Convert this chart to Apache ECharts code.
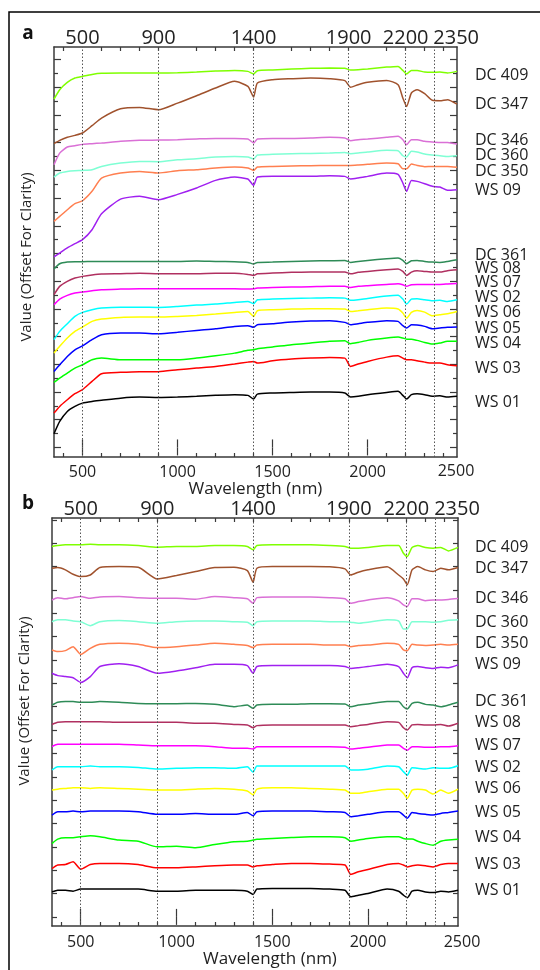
<!DOCTYPE html>
<html><head><meta charset="utf-8">
<script src="https://cdn.jsdelivr.net/npm/echarts@6/dist/echarts.min.js"></script>
<style>html,body{margin:0;padding:0;background:#fff}#c{width:540px;height:970px}</style>
</head><body><div id="c"></div><script>
// ---- data ----
const wavelengths = [350,380,420,460,500,550,600,700,800,900,1000,1100,1200,1300,1370,1400,1420,1500,1600,1700,1800,1880,1910,1950,2000,2100,2160,2185,2205,2230,2260,2300,2340,2380,2420,2470];
const seriesNames = ['DC 409','DC 347','DC 346','DC 360','DC 350','WS 09','DC 361','WS 08','WS 07','WS 02','WS 06','WS 05','WS 04','WS 03','WS 01'];
const featureLines = [500,900,1400,1900,2200,2350];
const bottomTickLabels = [500,1000,1500,2000];
const minorXTicks = [400,600,700,800,900,1100,1200,1300,1400,1600,1700,1800,1900,2100,2200,2300,2400];
const majorXTicks = [500,1000,1500,2000];

// panel a (reflectance, offset for clarity)
const aDC409 = [25.15,25.83,26.36,26.67,26.79,26.93,27.01,27.03,27.03,27.03,27.05,27.10,27.17,27.22,27.15,26.96,27.20,27.25,27.32,27.37,27.39,27.37,27.25,27.27,27.32,27.46,27.51,27.22,26.96,27.22,27.22,27.10,27.08,27.10,27.03,27.15];
const aDC347 = [21.93,22.17,22.39,22.53,22.70,23.23,23.78,24.45,24.55,24.38,24.86,25.39,25.95,26.43,26.07,25.30,26.31,26.55,26.62,26.67,26.62,26.48,26.00,26.19,26.36,26.50,26.19,25.23,24.62,25.59,25.83,25.54,25.06,25.03,25.11,24.79];
const aDC346 = [20.41,21.25,21.69,21.78,21.88,21.93,21.98,22.10,22.17,22.19,22.22,22.27,22.31,22.31,22.27,21.98,22.27,22.31,22.31,22.34,22.39,22.34,22.15,22.22,22.27,22.39,22.46,22.22,21.86,22.22,22.22,22.10,22.05,22.02,22.02,21.90];
const aDC360 = [19.52,19.81,19.93,19.98,20.00,20.05,20.29,20.53,20.65,20.63,20.77,20.85,20.97,21.01,20.97,20.82,21.11,21.16,21.21,21.23,21.25,21.30,21.21,21.25,21.33,21.45,21.42,21.06,20.97,21.38,21.33,21.18,21.11,21.06,21.01,21.06];
const aDC350 = [16.32,16.68,17.16,17.60,17.81,18.49,19.45,19.81,19.93,19.81,19.98,20.05,20.17,20.24,20.17,20.00,20.24,20.29,20.32,20.34,20.36,20.36,20.36,20.39,20.44,20.53,20.48,20.12,20.12,20.46,20.36,20.27,20.29,20.29,20.29,20.22];
const aWS09 = [13.75,14.03,14.40,14.71,15.00,15.72,16.87,17.93,18.13,17.89,18.27,18.73,19.28,19.52,19.38,18.92,19.52,19.57,19.57,19.57,19.62,19.57,19.38,19.45,19.57,19.81,19.71,19.09,18.49,19.28,19.21,19.04,18.85,18.80,18.56,18.61];
const aDC361 = [12.88,13.26,13.38,13.41,13.41,13.43,13.43,13.43,13.43,13.43,13.43,13.46,13.43,13.41,13.36,13.24,13.36,13.38,13.43,13.46,13.48,13.50,13.36,13.43,13.50,13.62,13.67,13.50,13.26,13.48,13.50,13.43,13.38,13.36,13.43,13.55];
const aWS08 = [11.03,11.63,11.99,12.23,12.35,12.45,12.52,12.54,12.57,12.54,12.54,12.54,12.57,12.57,12.49,12.42,12.54,12.59,12.64,12.66,12.66,12.66,12.54,12.64,12.71,12.83,12.88,12.71,12.42,12.66,12.76,12.71,12.66,12.66,12.76,12.83];
const aWS07 = [10.30,10.71,10.98,11.15,11.22,11.31,11.39,11.43,11.46,11.46,11.46,11.46,11.46,11.46,11.43,11.46,11.51,11.55,11.58,11.60,11.63,11.63,11.55,11.63,11.68,11.77,11.82,11.75,11.63,11.75,11.77,11.77,11.77,11.77,11.80,11.84];
const aWS02 = [7.78,8.38,8.93,9.46,9.75,9.94,10.06,10.13,10.13,10.11,10.18,10.28,10.35,10.47,10.54,10.38,10.66,10.71,10.76,10.78,10.81,10.78,10.62,10.66,10.76,10.93,10.98,10.71,10.35,10.71,10.74,10.66,10.59,10.62,10.54,10.66];
const aWS06 = [6.81,7.30,7.90,8.38,8.69,9.10,9.27,9.39,9.41,9.41,9.46,9.53,9.63,9.75,9.82,9.46,9.87,9.94,9.99,10.01,10.01,9.99,9.82,9.87,9.94,10.06,9.99,9.70,9.34,9.75,9.89,9.77,9.51,9.58,9.65,9.82];
const aWS05 = [5.49,5.97,6.57,7.05,7.34,7.78,8.14,8.26,8.26,8.21,8.31,8.45,8.57,8.74,8.79,8.67,8.86,8.93,9.05,9.12,9.15,9.03,8.86,8.93,9.03,9.15,9.10,8.79,8.62,8.86,8.84,8.74,8.57,8.62,8.67,8.69];
const aWS04 = [4.70,5.01,5.37,5.73,5.97,6.33,6.45,6.33,6.33,6.33,6.33,6.45,6.62,6.81,7.01,7.05,7.13,7.25,7.42,7.54,7.66,7.70,7.49,7.58,7.73,7.90,7.97,7.90,7.82,7.82,7.73,7.58,7.46,7.54,7.66,7.66];
const aWS03 = [2.48,2.96,3.44,3.88,4.17,4.77,5.32,5.42,5.47,5.47,5.61,5.73,5.85,6.02,6.16,6.21,6.09,6.26,6.38,6.45,6.50,6.45,5.85,6.02,6.21,6.52,6.62,6.45,6.33,6.33,6.26,6.16,6.09,6.09,5.97,5.90];
const aWS01 = [0.99,1.88,2.60,2.96,3.20,3.32,3.40,3.56,3.64,3.61,3.64,3.69,3.76,3.81,3.76,3.49,3.85,3.93,3.97,4.00,4.00,3.93,3.64,3.69,3.81,3.97,4.05,3.76,3.49,3.81,3.88,3.81,3.69,3.73,3.64,3.69];

// panel b (continuum removed, offset for clarity)
const bDC409 = [15.86,15.90,15.93,15.93,15.93,15.96,15.93,15.93,15.90,15.83,15.86,15.86,15.90,15.90,15.86,15.72,15.90,15.93,15.93,15.93,15.90,15.86,15.79,15.79,15.82,15.90,15.90,15.57,15.43,15.82,15.90,15.82,15.79,15.82,15.67,15.82];
const bDC347 = [14.93,14.96,14.86,14.67,14.57,14.64,14.96,15.00,14.97,14.47,14.62,14.79,14.96,14.97,14.83,14.33,14.93,15.00,15.00,15.00,14.99,14.90,14.64,14.76,14.86,14.99,14.64,14.47,14.22,14.86,15.00,14.86,14.79,14.93,14.86,14.96];
const bDC346 = [13.57,13.67,13.62,13.67,13.72,13.64,13.70,13.72,13.67,13.64,13.64,13.60,13.72,13.67,13.62,13.43,13.67,13.70,13.70,13.70,13.67,13.62,13.43,13.50,13.57,13.67,13.53,13.36,13.29,13.62,13.62,13.54,13.57,13.57,13.59,13.63];
const bDC360 = [12.64,12.72,12.72,12.67,12.64,12.47,12.64,12.69,12.64,12.57,12.64,12.67,12.67,12.64,12.62,12.47,12.64,12.67,12.67,12.67,12.64,12.64,12.62,12.57,12.62,12.72,12.67,12.33,12.33,12.64,12.64,12.64,12.62,12.64,12.70,12.72];
const bDC350 = [11.43,11.36,11.40,11.57,11.24,11.50,11.67,11.72,11.67,11.53,11.57,11.64,11.72,11.67,11.62,11.53,11.64,11.67,11.67,11.67,11.64,11.64,11.57,11.62,11.64,11.72,11.67,11.43,11.40,11.67,11.64,11.62,11.64,11.67,11.64,11.67];
const bWS09 = [10.43,10.33,10.29,10.24,10.04,10.29,10.72,10.84,10.72,10.43,10.53,10.67,10.82,10.82,10.76,10.43,10.72,10.76,10.76,10.76,10.76,10.72,10.64,10.67,10.72,10.82,10.72,10.43,10.24,10.67,10.72,10.67,10.64,10.69,10.67,10.79];
const bDC361 = [9.07,9.19,9.22,9.22,9.19,9.19,9.22,9.19,9.14,9.13,9.13,9.14,9.10,9.00,9.07,8.93,9.07,9.10,9.10,9.13,9.13,9.12,9.00,9.07,9.12,9.22,9.22,9.00,8.90,9.14,9.19,9.10,9.07,9.00,9.07,9.19];
const bWS08 = [8.24,8.33,8.36,8.36,8.36,8.36,8.36,8.33,8.33,8.33,8.33,8.29,8.29,8.24,8.22,8.10,8.19,8.22,8.22,8.22,8.22,8.22,8.14,8.19,8.24,8.36,8.33,8.10,8.00,8.22,8.24,8.22,8.22,8.24,8.17,8.29];
const bWS07 = [7.29,7.39,7.39,7.39,7.39,7.39,7.39,7.39,7.36,7.33,7.33,7.33,7.29,7.22,7.22,7.19,7.29,7.29,7.29,7.29,7.29,7.26,7.19,7.22,7.26,7.36,7.36,7.22,7.14,7.29,7.29,7.26,7.26,7.29,7.29,7.33];
const bWS02 = [6.29,6.43,6.43,6.43,6.43,6.46,6.43,6.43,6.40,6.33,6.36,6.39,6.39,6.36,6.43,6.19,6.46,6.46,6.46,6.46,6.46,6.46,6.29,6.29,6.32,6.46,6.43,6.22,6.07,6.39,6.36,6.33,6.39,6.36,6.36,6.47];
const bWS06 = [5.43,5.47,5.50,5.53,5.53,5.50,5.53,5.50,5.47,5.43,5.43,5.47,5.50,5.47,5.39,5.22,5.47,5.53,5.53,5.50,5.47,5.43,5.29,5.29,5.36,5.47,5.47,5.29,5.07,5.43,5.47,5.43,5.26,5.43,5.29,5.47];
const bWS05 = [4.36,4.50,4.50,4.53,4.50,4.53,4.53,4.53,4.50,4.39,4.39,4.43,4.39,4.39,4.47,4.33,4.50,4.53,4.53,4.53,4.50,4.47,4.29,4.33,4.39,4.50,4.50,4.36,4.22,4.47,4.43,4.39,4.36,4.43,4.47,4.53];
const bWS04 = [3.14,3.33,3.39,3.39,3.43,3.47,3.43,3.29,3.24,3.00,3.03,2.96,3.10,3.22,3.24,3.29,3.32,3.36,3.40,3.43,3.43,3.39,3.24,3.29,3.36,3.43,3.43,3.36,3.33,3.33,3.24,3.14,3.07,3.24,3.29,3.32];
const bWS03 = [2.07,2.22,2.24,2.36,2.04,2.24,2.29,2.29,2.24,2.10,2.10,2.14,2.19,2.22,2.22,2.14,2.19,2.24,2.29,2.29,2.26,2.22,1.82,1.93,2.03,2.24,2.29,2.22,2.14,2.19,2.22,2.19,2.14,2.24,2.29,2.29];
const bWS01 = [1.07,1.14,1.14,1.10,1.19,1.19,1.19,1.19,1.19,1.10,1.10,1.14,1.14,1.14,1.10,0.96,1.19,1.22,1.22,1.22,1.19,1.14,0.86,0.93,1.00,1.19,1.10,0.93,0.82,1.10,1.14,1.07,1.04,1.10,1.07,1.14];

const panelA = [aDC409,aDC347,aDC346,aDC360,aDC350,aWS09,aDC361,aWS08,aWS07,aWS02,aWS06,aWS05,aWS04,aWS03,aWS01];
const panelB = [bDC409,bDC347,bDC346,bDC360,bDC350,bWS09,bDC361,bWS08,bWS07,bWS02,bWS06,bWS05,bWS04,bWS03,bWS01];

// ---- styles / layout ----
const colors = ['#7fff00','#a0522d','#da70d6','#7fffd4','#ff7f50','#a020f0','#2e8b57','#b03060','#ff00ff','#00ffff','#ffff00','#0000ff','#00ff00','#ff0000','#000000'];
const labelYA = [75,104,140,155,171,190,255,268,282,297,312,328,343,368,402];
const labelYB = [547,568,598,622,643,664,701,722,745,767,788,812,837,864,890];
const F = '"Open Sans", "DejaVu Sans", sans-serif';
const AX = '#3a3a3a';

const chart = echarts.init(document.getElementById('c'), null, {renderer: 'canvas'});

function xAxes(grid, opt) {
  const base = {gridIndex: grid, type: 'value', min: 350, max: 2470, splitLine: {show: false}};
  return [
    Object.assign({}, base, {position: 'bottom',
      axisLine: {show: true, onZero: false, lineStyle: {color: AX, width: 1.5}},
      axisTick: {show: true, inside: true, length: 4, customValues: minorXTicks, lineStyle: {color: AX, width: 1.2}},
      axisLabel: {show: true, customValues: bottomTickLabels, margin: opt.labelMargin, fontSize: 16, color: '#222', fontFamily: F,
        hideOverlap: false, formatter: v => String(v)},
      name: 'Wavelength (nm)', nameLocation: 'middle', nameGap: opt.nameGap,
      nameTextStyle: {fontSize: 17, color: '#222', fontFamily: F, padding: opt.namePad}}),
    Object.assign({}, base, {position: 'bottom',
      axisLine: {show: false}, axisLabel: {show: false},
      axisTick: {show: true, inside: true, length: 8, customValues: majorXTicks, lineStyle: {color: AX, width: 1.2}}}),
    Object.assign({}, base, {position: 'top',
      axisLine: {show: true, onZero: false, lineStyle: {color: AX, width: 1.5}},
      axisTick: {show: true, inside: true, length: 4, customValues: minorXTicks, lineStyle: {color: AX, width: 1.2}},
      axisLabel: {show: true, customValues: featureLines, margin: -1, fontSize: 20, color: '#222', fontFamily: F,
        hideOverlap: false,
        formatter: v => (v === 2350 ? '{r|' + v + '}' : '{n|' + v + '}'),
        rich: {n: {fontSize: 20, fontFamily: F, color: '#222'}, r: {fontSize: 20, fontFamily: F, color: '#222', padding: [0, 0, 0, 44]}}}}),
    Object.assign({}, base, {position: 'top',
      axisLine: {show: false}, axisLabel: {show: false},
      axisTick: {show: true, inside: true, length: 8, customValues: majorXTicks, lineStyle: {color: AX, width: 1.2}}})
  ];
}

function range(a, b, step) { const r = []; for (let v = a; v <= b; v += step) r.push(v); return r; }

const yName = {name: 'Value (Offset For Clarity)', nameLocation: 'middle', nameGap: 20};
const yAxes = [
  // panel a
  Object.assign({gridIndex: 0, type: 'value', min: -0.69, max: 28.91, position: 'left', splitLine: {show: false},
    axisLine: {show: true, onZero: false, lineStyle: {color: AX, width: 1.5}}, axisLabel: {show: false},
    axisTick: {show: true, inside: true, length: 4, customValues: range(1, 27, 2), lineStyle: {color: AX, width: 1.2}},
    nameTextStyle: {fontSize: 15, color: '#222', fontFamily: F, padding: [0, 10, 0, 0]}}, yName),
  {gridIndex: 0, type: 'value', min: -0.69, max: 28.91, position: 'left', splitLine: {show: false},
    axisLine: {show: false}, axisLabel: {show: false},
    axisTick: {show: true, inside: true, length: 7, customValues: range(0, 28, 2), lineStyle: {color: AX, width: 1.2}}},
  {gridIndex: 0, type: 'value', min: -0.69, max: 28.91, position: 'right', splitLine: {show: false},
    axisLine: {show: true, onZero: false, lineStyle: {color: AX, width: 1.5}}, axisLabel: {show: false},
    axisTick: {show: true, inside: true, length: 4, customValues: range(1, 27, 2), lineStyle: {color: AX, width: 1.2}}},
  {gridIndex: 0, type: 'value', min: -0.69, max: 28.91, position: 'right', splitLine: {show: false},
    axisLine: {show: false}, axisLabel: {show: false},
    axisTick: {show: true, inside: true, length: 7, customValues: range(0, 28, 2), lineStyle: {color: AX, width: 1.2}}},
  // panel b
  Object.assign({gridIndex: 1, type: 'value', min: -0.39, max: 17.08, position: 'left', splitLine: {show: false},
    axisLine: {show: true, onZero: false, lineStyle: {color: AX, width: 1.5}}, axisLabel: {show: false},
    axisTick: {show: true, inside: true, length: 5, customValues: range(0, 17, 1), lineStyle: {color: AX, width: 1.2}},
    nameTextStyle: {fontSize: 15, color: '#222', fontFamily: F, padding: [0, 0, 0, 42]}}, yName),
  {gridIndex: 1, type: 'value', min: -0.39, max: 17.08, position: 'right', splitLine: {show: false},
    axisLine: {show: true, onZero: false, lineStyle: {color: AX, width: 1.5}}, axisLabel: {show: false},
    axisTick: {show: true, inside: true, length: 5, customValues: range(0, 17, 1), lineStyle: {color: AX, width: 1.2}}}
];

const vLine = {silent: true, symbol: 'none', label: {show: false}, animation: false,
  lineStyle: {type: [1.5, 2], color: '#555', width: 1},
  data: featureLines.map(v => ({xAxis: v}))};

function buildSeries(panel, xi, yi) {
  return panel.map((vals, i) => ({
    type: 'line', name: seriesNames[i], xAxisIndex: xi, yAxisIndex: yi,
    data: wavelengths.map((w, k) => [w, vals[k]]),
    symbol: 'none', smooth: 0.2, silent: true,
    lineStyle: {width: 1.5, color: colors[i]}, itemStyle: {color: colors[i]},
    markLine: i === 0 ? vLine : undefined
  }));
}

const graphics = [
  {type: 'rect', shape: {x: 9, y: 12, width: 560, height: 990}, style: {fill: 'none', stroke: '#000', lineWidth: 1.5}, z: 100},
  {type: 'text', x: 28, y: 34, style: {text: 'a', font: 'bold 19px ' + F, fill: '#111', align: 'center', verticalAlign: 'middle'}},
  {type: 'text', x: 28, y: 504, style: {text: 'b', font: 'bold 19px ' + F, fill: '#111', align: 'center', verticalAlign: 'middle'}},
  {type: 'text', x: 456, y: 471, style: {text: '2500', font: '16px ' + F, fill: '#222', align: 'center', verticalAlign: 'middle'}},
  {type: 'text', x: 462, y: 942, style: {text: '2500', font: '16px ' + F, fill: '#222', align: 'center', verticalAlign: 'middle'}}
];
seriesNames.forEach((n, i) => {
  graphics.push({type: 'text', x: 475, y: labelYA[i], style: {text: n, font: '16px ' + F, fill: '#222', align: 'left', verticalAlign: 'middle'}});
  graphics.push({type: 'text', x: 475, y: labelYB[i], style: {text: n, font: '16px ' + F, fill: '#222', align: 'left', verticalAlign: 'middle'}});
});

chart.setOption({
  animation: false,
  backgroundColor: '#fff',
  grid: [
    {left: 54, top: 47, width: 403, height: 410},
    {left: 52, top: 518, width: 406, height: 408}
  ],
  xAxis: xAxes(0, {labelMargin: 7, nameGap: 23, namePad: [0, 0, 0, 0]}).concat(xAxes(1, {labelMargin: 8, nameGap: 20, namePad: [0, 0, 0, 30]})),
  yAxis: yAxes,
  series: buildSeries(panelA, 0, 0).concat(buildSeries(panelB, 4, 4)),
  graphic: graphics
});
</script></body></html>
